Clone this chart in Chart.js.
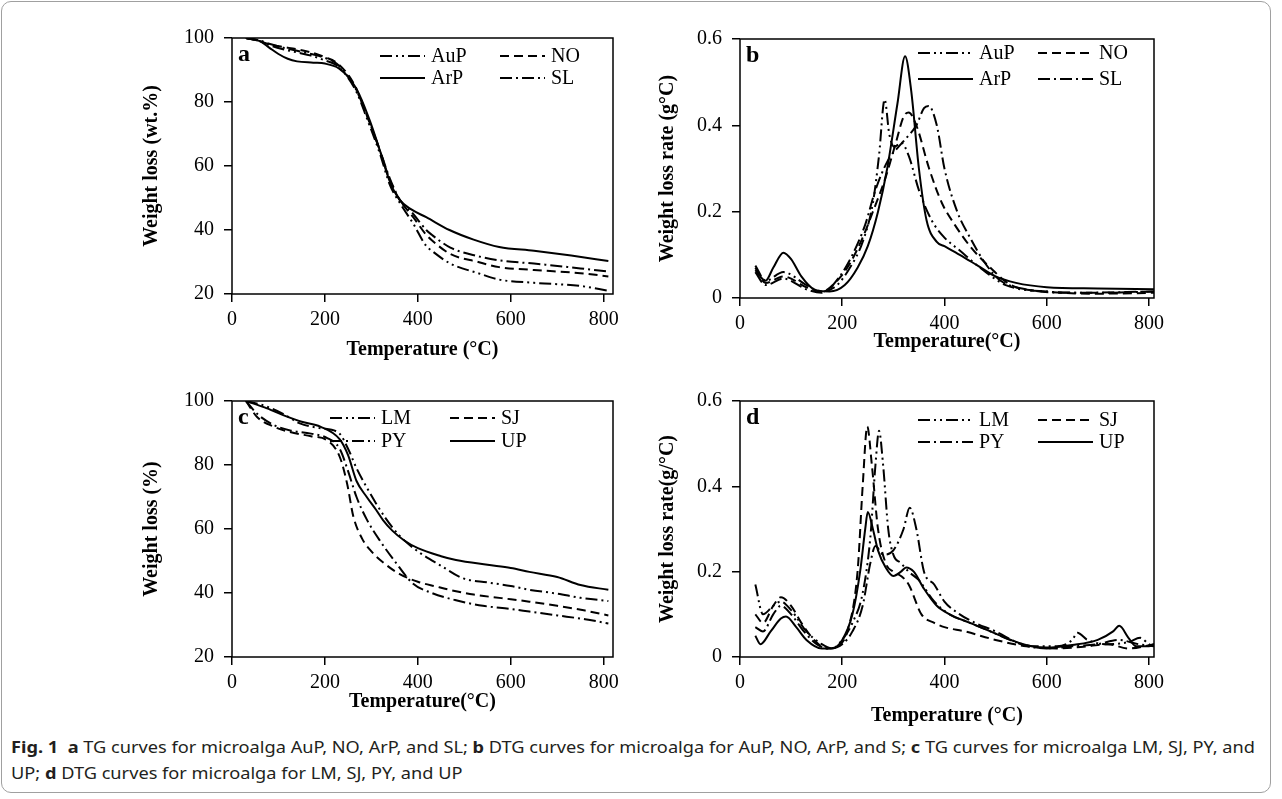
<!DOCTYPE html>
<html><head><meta charset="utf-8">
<script src="https://cdn.jsdelivr.net/npm/chart.js@4"></script>
<style>
body{margin:0;background:#fff;width:1282px;height:799px;overflow:hidden;position:relative;}
.frame{position:absolute;left:1px;top:1px;width:1268px;height:790px;border:1px solid #a0a0a0;border-radius:10px;}
canvas{position:absolute;}
.cap{position:absolute;left:11px;top:734px;font-family:"Noto Sans";font-size:16.5px;color:#231f20;line-height:26px;white-space:nowrap;transform-origin:0 0;}
.cap b{font-weight:bold;}
</style>
</head><body>
<div class="frame"></div>
<canvas id="ca" width="560" height="360" style="left:100px;top:10px"></canvas>
<canvas id="cb" width="600" height="360" style="left:610px;top:10px"></canvas>
<canvas id="cc" width="560" height="360" style="left:100px;top:373px"></canvas>
<canvas id="cd" width="600" height="360" style="left:610px;top:373px"></canvas>
<div class="cap" id="cap"><span id="l1"><b>Fig. 1</b>&nbsp; <b>a</b> TG curves for microalga AuP, NO, ArP, and SL; <b>b</b> DTG curves for microalga for AuP, NO, ArP, and S; <b>c</b> TG curves for microalga LM, SJ, PY, and</span><br>UP; <b>d</b> DTG curves for microalga for LM, SJ, PY, and UP</div>
<script>
// ---------- DATA ----------
const xTicks = [0, 200, 400, 600, 800];
const tgTicks = [20, 40, 60, 80, 100];
const dtgTicks = [0, 0.2, 0.4, 0.6];

// Panel a (TG)
const tA_ArP = [30,60,80,100,120,140,175,200,230,255,275,297,318,340,361,385,418,468,520,575,650,730,810];
const a_ArP  = [100,99,97,95,93.5,92.7,92.3,92,90.5,87,82,74,65,55,49.4,46.5,44,40,37,34.7,33.5,32,30.3];
const tA_oth = [30,60,80,110,140,170,200,225,250,270,290,318,340,361,390,418,430,470,530,575,650,750,810];
const a_SL   = [100,99.2,98.2,97,96,95,93.8,92,88,83,76,65,56,49.5,45,40,38.5,34.5,31.8,30.5,29.5,28,27];
const a_NO   = [100,99,98,97.2,96.5,95.5,94,92.3,88.5,83.5,76,65,55.5,49.4,44,38.5,36.8,32.5,30,28.4,27.5,26.5,25.5];
const a_AuP  = [100,99,97.8,96.5,95.5,94.5,93,91.5,87.5,82.5,75,64,54,48.5,42,35,33.5,29.5,26.5,24.5,23.5,22.5,21];

// Panel b (DTG)
const tB_AuP = [30,50,85,130,160,190,215,240,260,272,283,292,302,315,330,350,375,400,430,470,520,600,700,810];
const b_AuP  = [0.075,0.04,0.06,0.03,0.015,0.03,0.07,0.13,0.22,0.33,0.46,0.38,0.35,0.36,0.33,0.25,0.18,0.14,0.11,0.07,0.03,0.015,0.012,0.015];
const tB_NO  = [30,50,85,130,160,190,215,240,260,285,305,320,330,345,370,395,420,450,490,530,600,700,810];
const b_NO   = [0.07,0.035,0.05,0.025,0.015,0.04,0.08,0.14,0.2,0.28,0.36,0.42,0.43,0.4,0.3,0.22,0.17,0.12,0.07,0.03,0.015,0.01,0.012];
const tB_SL  = [30,50,85,130,160,195,220,245,265,290,310,325,345,360,369,385,400,425,450,480,510,560,650,810];
const b_SL   = [0.06,0.03,0.045,0.02,0.012,0.05,0.1,0.17,0.25,0.32,0.35,0.37,0.4,0.44,0.445,0.4,0.3,0.2,0.14,0.08,0.04,0.02,0.012,0.015];
const tB_ArP = [30,50,65,85,100,120,145,175,205,230,250,270,288,308,323,335,350,365,385,400,430,465,500,540,600,700,810];
const b_ArP  = [0.065,0.04,0.07,0.105,0.09,0.05,0.02,0.015,0.03,0.07,0.12,0.2,0.3,0.45,0.56,0.48,0.3,0.18,0.13,0.12,0.1,0.075,0.05,0.035,0.025,0.022,0.02];

// Panel c (TG)
const tC_LM = [30,70,110,146,190,230,250,268,290,310,330,360,400,450,497,550,600,640,700,750,810];
const c_LM  = [100,98.5,96,93,91.5,90,85,79,73,68,63.5,58,53,48.5,44.6,43.3,42.2,41,39.8,38.5,37.5];
const tC_SJ = [30,54,90,125,170,204,232,248,261,280,300,330,360,400,440,468,520,580,640,700,760,810];
const c_SJ  = [100,95,92,90.3,89,87.8,82.5,74,64,57,53,49,46,43.5,42,41,39.5,38.4,37.3,36,34.5,33];
const tC_PY = [30,54,90,125,170,204,232,250,268,290,320,350,389,430,480,540,600,640,700,760,810];
const c_PY  = [100,96,92.5,90.8,89.8,88.5,85,78,70,63,56,50,43,40,37.8,36,35,34.2,33,31.8,30.5];
const tC_UP = [30,70,110,150,190,232,250,268,290,310,325,345,370,400,450,482,550,600,640,700,750,810];
const c_UP  = [100,98,95.6,93.5,92,88,83,75,70,66,62.8,59.5,56.5,54,51.5,50.3,48.8,47.8,46.6,45,42.5,41];

// Panel d (DTG)
const tD_LM = [30,45,65,80,100,130,160,180,200,220,240,255,265,272,280,290,300,315,330,350,380,410,450,490,540,580,620,650,660,680,720,760,783,800,810];
const d_LM  = [0.17,0.1,0.12,0.13,0.11,0.06,0.03,0.02,0.04,0.08,0.15,0.28,0.45,0.53,0.45,0.3,0.24,0.22,0.2,0.18,0.13,0.1,0.08,0.06,0.035,0.025,0.025,0.04,0.057,0.04,0.03,0.035,0.045,0.03,0.025];
const tD_SJ = [30,45,65,80,100,120,145,170,190,210,230,240,249,258,270,285,300,315,330,355,380,400,440,500,560,620,680,720,760,810];
const d_SJ  = [0.1,0.08,0.12,0.14,0.12,0.08,0.04,0.02,0.025,0.06,0.2,0.4,0.54,0.45,0.3,0.22,0.2,0.19,0.17,0.1,0.08,0.07,0.06,0.04,0.025,0.02,0.025,0.03,0.02,0.03];
const tD_PY = [30,45,65,80,100,125,150,175,200,220,240,255,265,280,300,320,332,345,360,380,400,430,460,500,550,600,650,700,740,780,810];
const d_PY  = [0.07,0.06,0.1,0.12,0.1,0.06,0.03,0.02,0.03,0.06,0.12,0.22,0.26,0.24,0.25,0.3,0.35,0.3,0.2,0.17,0.13,0.1,0.08,0.06,0.03,0.02,0.025,0.03,0.04,0.03,0.025];
const tD_UP = [30,40,60,80,90,110,130,160,180,200,220,235,245,250,260,270,285,300,315,325,340,360,385,410,450,490,530,570,600,650,700,730,742,760,775,800,810];
const d_UP  = [0.05,0.03,0.06,0.09,0.095,0.07,0.04,0.02,0.02,0.04,0.1,0.2,0.3,0.34,0.3,0.25,0.21,0.19,0.2,0.21,0.2,0.16,0.12,0.1,0.08,0.06,0.04,0.025,0.022,0.028,0.04,0.06,0.073,0.045,0.025,0.025,0.03];

// ---------- STYLE ----------
const SOLID = [], DASH = [9,5], DASHDOT = [12,4,2,4], DASHDOTDOT = [12,4,2,4,2,4];
const SERIF = 'Liberation Serif';

function ds(label, xs, ys, dash){
  return {label, data: xs.map((x,i)=>({x, y: ys[i]})), borderColor:'#000', borderWidth:2,
    borderDash: dash, pointRadius:0, fill:false, tension:0.4, cubicInterpolationMode:'monotone'};
}

const framePlugin = {
  id:'frameBox',
  afterDraw(chart, args, opts){
    const {ctx, chartArea:a} = chart;
    ctx.save();
    ctx.strokeStyle='#000'; ctx.lineWidth=1.5; ctx.setLineDash([]);
    ctx.strokeRect(a.left, a.top, a.right-a.left, a.bottom-a.top);
    ctx.fillStyle='#000'; ctx.font='bold 24px "'+SERIF+'"';
    ctx.textBaseline='top'; ctx.textAlign='left';
    ctx.fillText(opts.letter, a.left+6, a.top+5);
    ctx.font='20px "'+SERIF+'"'; ctx.textBaseline='middle';
    opts.items.forEach(it=>{
      const d = chart.data.datasets[it.ds];
      ctx.beginPath(); ctx.lineWidth=2; ctx.setLineDash(d.borderDash||[]);
      ctx.moveTo(a.left+it.x1, a.top+it.y); ctx.lineTo(a.left+it.x2, a.top+it.y); ctx.stroke();
      ctx.setLineDash([]);
      ctx.fillText(d.label, a.left+it.tx, a.top+it.y+1);
    });
    ctx.restore();
  }
};

function makeChart(id, c){
  return new Chart(document.getElementById(id), {
    type:'line',
    data:{datasets:c.datasets},
    plugins:[framePlugin],
    options:{
      responsive:false, animation:false, devicePixelRatio:1,
      layout:{padding:{left:0, top:c.padTop, right:c.padRight, bottom:0}},
      plugins:{legend:{display:false}, tooltip:{enabled:false},
        frameBox:{letter:c.letter, items:c.legend}},
      scales:{
        x:{type:'linear', min:0, max:c.xmax,
          afterBuildTicks:s=>{s.ticks = xTicks.map(v=>({value:v}));},
          afterFit:s=>{s.height=c.xh;},
          grid:{drawOnChartArea:false, color:'#000', lineWidth:1.5, tickLength:8},
          border:{display:false},
          ticks:{color:'#000', font:{family:SERIF, size:20}, padding:6, maxRotation:0, autoSkip:false},
          title:{display:true, text:c.xtitle, color:'#000', font:{family:SERIF, size:20, weight:'bold'}, padding:{top:0, bottom:c.xtPad}}},
        y:{type:'linear', min:c.ymin, max:c.ymax,
          afterBuildTicks:s=>{s.ticks = c.yticks.map(v=>({value:v}));},
          afterFit:s=>{s.width=c.yw;},
          grid:{drawOnChartArea:false, color:'#000', lineWidth:1.5, tickLength:8},
          border:{display:false},
          ticks:{color:'#000', font:{family:SERIF, size:20}, padding:10, autoSkip:false,
            callback:v=> c.dtg ? (v===0?'0':v.toFixed(1)) : String(v)},
          title:{display:true, text:c.ytitle, color:'#000', font:{family:SERIF, size:20, weight:'bold'}, padding:{top:c.ytPad, bottom:0}}}
      }
    }
  });
}

makeChart('ca', {
  datasets:[ds('AuP',tA_oth,a_AuP,DASHDOTDOT), ds('NO',tA_oth,a_NO,DASH), ds('ArP',tA_ArP,a_ArP,SOLID), ds('SL',tA_oth,a_SL,DASHDOT)],
  letter:'a', padTop:28, padRight:47, xh:76, yw:132, xmax:820, ymin:20, ymax:100, yticks:tgTicks,
  xtitle:'Temperature (°C)', ytitle:'Weight loss (wt.%)', xtPad:8, ytPad:40,
  legend:[{ds:0,x1:148,x2:193,tx:199,y:18},{ds:1,x1:268,x2:313,tx:319,y:18},{ds:2,x1:148,x2:193,tx:199,y:40},{ds:3,x1:268,x2:313,tx:319,y:40}]
});
makeChart('cb', {
  datasets:[ds('AuP',tB_AuP,b_AuP,DASHDOTDOT), ds('NO',tB_NO,b_NO,DASH), ds('ArP',tB_ArP,b_ArP,SOLID), ds('SL',tB_SL,b_SL,DASHDOT)],
  letter:'b', padTop:29, padRight:56, xh:72, yw:130, xmax:810, ymin:0, ymax:0.6, yticks:dtgTicks, dtg:true,
  xtitle:'Temperature(°C)', ytitle:'Weight loss rate (g°C)', xtPad:16, ytPad:46,
  legend:[{ds:0,x1:178,x2:233,tx:239,y:14},{ds:1,x1:298,x2:353,tx:359,y:14},{ds:2,x1:178,x2:233,tx:239,y:40},{ds:3,x1:298,x2:353,tx:359,y:40}]
});
makeChart('cc', {
  datasets:[ds('LM',tC_LM,c_LM,DASHDOTDOT), ds('SJ',tC_SJ,c_SJ,DASH), ds('PY',tC_PY,c_PY,DASHDOT), ds('UP',tC_UP,c_UP,SOLID)],
  letter:'c', padTop:28, padRight:47, xh:76, yw:132, xmax:820, ymin:20, ymax:100, yticks:tgTicks,
  xtitle:'Temperature(°C)', ytitle:'Weight loss (%)', xtPad:19, ytPad:40,
  legend:[{ds:0,x1:98,x2:143,tx:149,y:17},{ds:1,x1:218,x2:263,tx:269,y:17},{ds:2,x1:98,x2:143,tx:149,y:40},{ds:3,x1:218,x2:263,tx:269,y:40}]
});
makeChart('cd', {
  datasets:[ds('LM',tD_LM,d_LM,DASHDOTDOT), ds('SJ',tD_SJ,d_SJ,DASH), ds('PY',tD_PY,d_PY,DASHDOT), ds('UP',tD_UP,d_UP,SOLID)],
  letter:'d', padTop:28, padRight:56, xh:76, yw:130, xmax:810, ymin:0, ymax:0.6, yticks:dtgTicks, dtg:true,
  xtitle:'Temperature (°C)', ytitle:'Weight loss rate(g/°C)', xtPad:5, ytPad:46,
  legend:[{ds:0,x1:178,x2:233,tx:239,y:19},{ds:1,x1:298,x2:353,tx:359,y:19},{ds:2,x1:178,x2:233,tx:239,y:41},{ds:3,x1:298,x2:353,tx:359,y:41}]
});

// fit caption width
const l1 = document.getElementById('l1');
const w = l1.getBoundingClientRect().width;
document.getElementById('cap').style.transform = 'scaleX(' + (1244 / w) + ')';
</script>
</body></html>
